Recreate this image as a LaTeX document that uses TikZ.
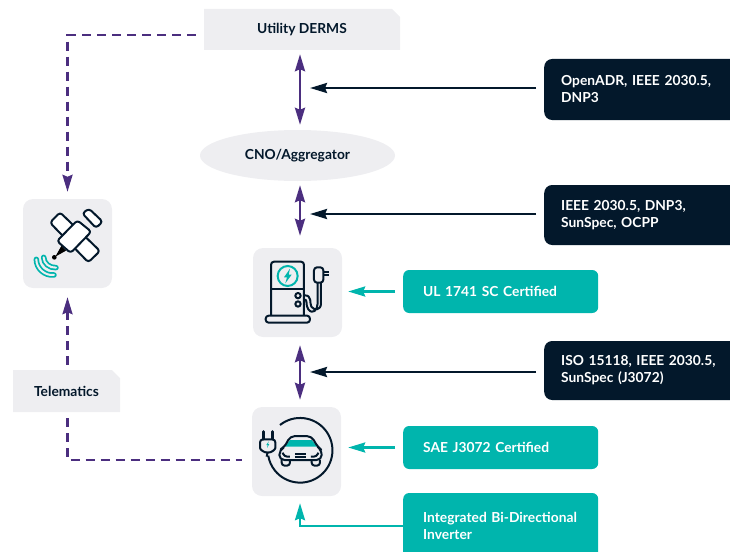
\documentclass[tikz,border=0pt]{standalone}
\usepackage{fontspec}
\setmainfont{Lato}
\usetikzlibrary{arrows.meta,shapes.geometric,shapes.misc}
\definecolor{tilegrey}{HTML}{EEEEF1}
\definecolor{inkdark}{HTML}{03182B}
\definecolor{violet}{HTML}{4B2E7F}
\definecolor{tealbox}{HTML}{00B5AD}
\tikzset{
  label/.style={font=\fontsize{13.8}{17}\selectfont\bfseries, text=inkdark},
  greybox/.style={label, chamfered rectangle, chamfered rectangle corners=north east, chamfered rectangle sep=4pt, fill=tilegrey, inner sep=0pt},
  tile/.style={fill=tilegrey, rounded corners=10pt, minimum size=89pt, inner sep=0pt},
  darkbox/.style={label, text=white, anchor=west, fill=inkdark, rounded corners=8pt, minimum width=210pt, text width=176pt, inner xsep=17pt, align=left},
  tealnote/.style={label, text=white, anchor=west, fill=tealbox, rounded corners=6pt, minimum width=195pt, text width=155pt, inner xsep=20pt, align=left},
  spinearrow/.style={violet, line width=2.6pt, {Stealth[length=17pt,width=10pt,inset=2pt]}-{Stealth[length=17pt,width=10pt,inset=2pt]}},
  darkarrow/.style={inkdark, line width=2.6pt, -{Stealth[length=17pt,width=10pt,inset=2pt]}},
  tealarrow/.style={tealbox, line width=2.4pt, -{Stealth[length=17pt,width=10pt,inset=2pt]}},
  dashline/.style={violet, line width=2.4pt, dash pattern=on 9pt off 6pt, -{Stealth[length=17pt,width=10pt,inset=2pt]}},
  dashplain/.style={violet, line width=2.4pt, dash pattern=on 9pt off 6pt},
  icon/.style={inkdark, line width=2pt, line join=round},
}
\begin{document}
\begin{tikzpicture}[x=1pt,y=-1pt]
\useasboundingbox (0,0) rectangle (730,551);
\coordinate (spine) at (300,0);

\node[greybox, minimum width=196pt, minimum height=41pt] (derms) at (302,29.5) {\raisebox{-2.5pt}{Utility DERMS}\hspace{8pt}};
\node[label, ellipse, fill=tilegrey, minimum width=195pt, minimum height=51pt, inner sep=0pt] (cno) at (297.5,155.5) {CNO/Aggregator};
\node[tile] (sat) at (67.5,243.5) {};
\node[tile] (charger) at (297.5,292.5) {};
\node[tile] (car) at (296.5,451.5) {};
\node[greybox, minimum width=107pt, minimum height=42pt] (telematics) at (66.5,391) {\raisebox{-2.5pt}{Telematics}};

\node[darkbox, minimum height=61pt] (openadr) at (544,89.5) {OpenADR, IEEE 2030.5,\\DNP3};
\node[darkbox, minimum height=60pt] (sunspec) at (544,215) {IEEE 2030.5, DNP3,\\SunSpec, OCPP};
\node[darkbox, minimum height=59pt] (iso) at (544,370.5) {ISO 15118, IEEE 2030.5,\\SunSpec (J3072)};
\node[tealnote, minimum height=43pt] (ul) at (403,291.5) {UL 1741 SC Certified};
\node[tealnote, minimum height=43pt] (sae) at (403,447.5) {SAE J3072 Certified};
\node[tealnote, minimum height=66pt] (inverter) at (403,526) {Integrated Bi-Directional\\Inverter};

\draw[spinearrow, shorten <=4pt, shorten >=5pt] (derms.south -| spine) -- (cno.north -| spine);
\draw[spinearrow, shorten <=4pt, shorten >=12pt] (cno.south -| spine) -- (charger.north -| spine);
\draw[spinearrow, shorten <=8pt, shorten >=7pt] (charger.south -| spine) -- (car.north -| spine);
\draw[darkarrow, shorten <=8pt, shorten >=10pt] ([yshift=1.5pt]openadr.west) -- ([yshift=1.5pt]openadr.west -| spine);
\draw[darkarrow, shorten <=8pt, shorten >=10pt] ([yshift=1pt]sunspec.west) -- ([yshift=1pt]sunspec.west -| spine);
\draw[darkarrow, shorten <=8pt, shorten >=10pt] ([yshift=-1.5pt]iso.west) -- ([yshift=-1.5pt]iso.west -| spine);
\draw[tealarrow, shorten <=8pt, shorten >=6pt] (ul.west) -- (ul.west -| charger.east);
\draw[tealarrow, shorten <=8pt, shorten >=7pt] (sae.west) -- (sae.west -| car.east);
\draw[tealarrow, shorten >=7pt] (inverter.west) -| (car.south -| spine);
\draw[dashline, shorten <=8pt, shorten >=7pt] ([yshift=-5.5pt]derms.west) -| (sat.north);
\draw[dashline, shorten <=5pt, shorten >=9pt] (telematics.north -| sat.south) -- (sat.south);
\draw[dashplain, shorten <=6pt, shorten >=10pt] (telematics.south -| sat.south) |- ([yshift=-8.5pt]car.west);

\begin{scope}[shift={(0,180)},x=.3333pt,y=-.3333pt]
\draw[icon, fill=white, rounded corners=3pt] (150,128) -- (180,97) -- (300,213) -- (265,247) -- cycle;
\draw[icon, fill=white, rounded corners=3pt] (247,100) -- (267,86) -- (308,125) -- (288,144) -- cycle;
\draw[icon, fill=white, rounded corners=3pt] (171,183) -- (232,121) -- (274,155) -- (212,219) -- cycle;
\fill[black] (184,198) -- (198,212) -- (166,230) -- cycle;
\fill[black] (163,232) circle [radius=7];
\draw[tealbox, line width=5.5pt, line cap=round] (109,238) .. controls (109,266) and (135,288) .. (162,285);
\draw[tilegrey, line width=2pt, line cap=round] (109,238) .. controls (109,266) and (135,288) .. (162,285);
\draw[tealbox, line width=5.5pt, line cap=round] (131,232) .. controls (131,250) and (148,264) .. (168,263);
\draw[tilegrey, line width=2pt, line cap=round] (131,232) .. controls (131,250) and (148,264) .. (168,263);
\end{scope}

\begin{scope}[shift={(240,240)},x=.3333pt,y=-.3333pt]
\draw[icon, rounded corners=3pt] (93,227) -- (93,65) -- (192,65) -- (192,227);
\draw[icon] (93,148) -- (192,148);
\draw[icon, rounded corners=3pt] (77,227) rectangle (210,248);
\draw[tealbox, line width=2pt] (143,108) circle [radius=30];
\fill[tealbox] (150,86) -- (132,112) -- (141,112) -- (136,130) -- (155,104) -- (146,104) -- cycle;
\draw[icon] (174,167) circle [radius=8] (174,192) circle [radius=8];
\draw[icon] (192,166) .. controls (218,165) and (208,190) .. (214,200) .. controls (222,212) and (243,212) .. (243,190) -- (243,128);
\draw[icon] (192,178) .. controls (205,178) and (195,195) .. (205,208) .. controls (218,225) and (233,210) .. (233,190) -- (233,128);
\draw[icon, rounded corners=3pt] (222,82) rectangle (250,128);
\draw[icon] (250,95) -- (267,95) (250,105) -- (267,105);
\end{scope}

\begin{scope}[shift={(240,400)},x=.3333pt,y=-.3333pt]
\draw[icon] (120,75) arc [start angle=231.5, end angle=530.5, radius=97];
\draw[icon] (83,155) -- (80,170);
\draw[icon, rounded corners=3pt] (60,118) -- (106,118) -- (106,135) arc [start angle=0, end angle=180, radius=23] -- cycle;
\draw[icon, line width=3pt, line cap=round] (71,95) -- (71,117) (96,95) -- (96,117);
\fill[tealbox] (86,124) -- (79,135) -- (83,135) -- (81,144) -- (88,132) -- (84,132) -- cycle;
\fill[tealbox] (150,120) -- (215,120) -- (232,140) -- (135,140) -- cycle;
\draw[icon, rounded corners=5pt] (118,180) -- (118,150) -- (135,140) -- (150,108) -- (215,108) -- (232,140) -- (245,150) -- (245,180) -- cycle;
\draw[icon, rounded corners=3pt] (125,180) -- (125,197) -- (150,197) -- (150,180);
\draw[icon, rounded corners=3pt] (215,180) -- (215,197) -- (240,197) -- (240,180);
\draw[icon] (165,161) -- (197,161) (165,172) -- (197,172);
\draw[icon, rounded corners=3pt] (128,158) -- (133,170) -- (150,170);
\draw[icon, rounded corners=3pt] (235,158) -- (230,170) -- (213,170);
\end{scope}
\end{tikzpicture}
\end{document}
